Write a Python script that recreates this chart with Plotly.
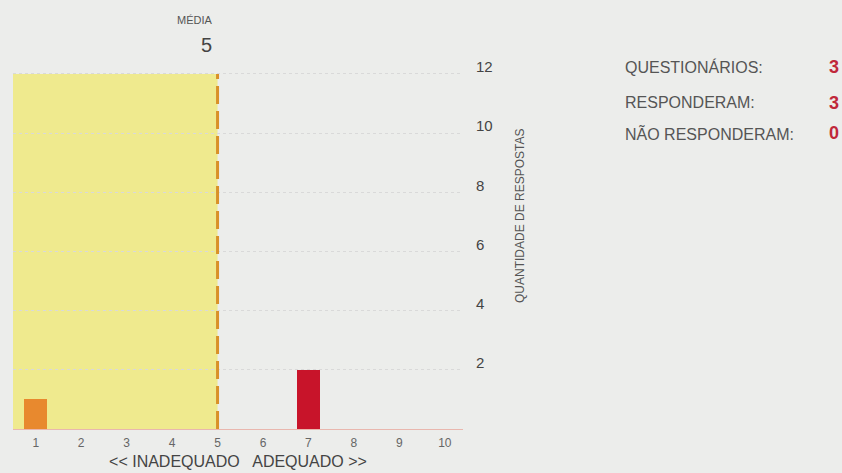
import plotly.graph_objects as go

# ---- data ----
notas = [1, 2, 3, 4, 5, 6, 7, 8, 9, 10]
respostas = [1, 0, 0, 0, 0, 0, 2, 0, 0, 0]
bar_colors = ["#E8892E", "#E8892E", "#E8892E", "#E8892E", "#E8892E",
              "#C8142A", "#C8142A", "#C8142A", "#C8142A", "#C8142A"]
media = 5
y_ticks = [2, 4, 6, 8, 10, 12]
y_max = 12
stat_labels = ["QUESTIONÁRIOS:", "RESPONDERAM:", "NÃO RESPONDERAM:"]
stat_values = [3, 3, 0]

FONT = "Liberation Sans, Arial, sans-serif"
BG = "#ECEDEB"

L, R, T, B = 13, 463, 65, 429  # plot area in pixels
PW, PH = R - L, B - T

fig = go.Figure()

fig.add_trace(go.Bar(
    x=notas, y=respostas, width=0.5,
    marker=dict(color=bar_colors, line=dict(width=0)),
    hoverinfo="x+y", showlegend=False,
))

x_min, x_max = 0.5, 10.4

# highlight region up to the average
fig.add_shape(type="rect", xref="x", yref="y",
              x0=x_min, x1=media, y0=0, y1=y_max,
              fillcolor="#EFEA8E", line=dict(width=0), layer="below")
# dashed average line
fig.add_shape(type="line", xref="x", yref="y",
              x0=media, x1=media, y0=0, y1=y_max,
              line=dict(color="#D99128", width=3, dash="18px,7px"),
              layer="above")

fig.add_annotation(x=media, xref="x", y=y_max, yref="y", yanchor="bottom",
                   yshift=46, text="MÉDIA", showarrow=False, xanchor="right",
                   xshift=-3, font=dict(family=FONT, size=11, color="#555555"))
fig.add_annotation(x=media, xref="x", y=y_max, yref="y", yanchor="bottom",
                   yshift=16, text=str(media), showarrow=False, xanchor="right",
                   xshift=-4, font=dict(family=FONT, size=20, color="#444444"))

stat_y = [67, 103, 133]
for lab, val, py in zip(stat_labels, stat_values, stat_y):
    yy = 1 - (py - T) / PH
    fig.add_annotation(x=(623 - L) / PW, xref="paper", y=yy, yref="paper",
                       text=lab, showarrow=False, xanchor="left", yanchor="middle",
                       font=dict(family=FONT, size=16, color="#555555"))
    fig.add_annotation(x=(841 - L) / PW, xref="paper", y=yy, yref="paper",
                       text=f"<b>{val}</b>", showarrow=False, xanchor="right",
                       yanchor="middle",
                       font=dict(family=FONT, size=18, color="#C0283A"))

# y-axis title
fig.add_annotation(x=(529 - L) / PW, xref="paper", y=1 - (216 - T) / PH,
                   yref="paper", text="QUANTIDADE DE RESPOSTAS", textangle=-90,
                   showarrow=False, font=dict(family=FONT, size=12, color="#555555"))

fig.update_layout(
    width=842, height=473,
    margin=dict(l=L, r=842 - R, t=T, b=473 - B),
    paper_bgcolor=BG, plot_bgcolor=BG,
    bargap=0,
    xaxis=dict(range=[x_min, x_max], tickvals=notas, ticktext=[str(n) for n in notas],
               showgrid=False, zeroline=False, showline=True,
               linecolor="#E9B7AE", linewidth=1, ticks="",
               ticklabelstandoff=3, automargin=False,
               tickfont=dict(family=FONT, size=12, color="#666666"),
               title=dict(text="<< INADEQUADO   ADEQUADO >>", standoff=6,
                          font=dict(family=FONT, size=16, color="#444444")),
               fixedrange=True),
    yaxis=dict(range=[0, 12.3], side="right", tickvals=y_ticks,
               showgrid=True, gridcolor="#D9D9D9", griddash="dot", gridwidth=1,
               zeroline=False, showline=False, ticks="", automargin=False,
               ticklabelstandoff=12, ticklabelshift=-7,
               tickfont=dict(family=FONT, size=15, color="#444444"),
               fixedrange=True),
    font=dict(family=FONT),
)

fig.write_html("out.html", config={"displayModeBar": False},
               post_script="document.body.style.margin='0';document.body.style.background='%s';" % BG)
